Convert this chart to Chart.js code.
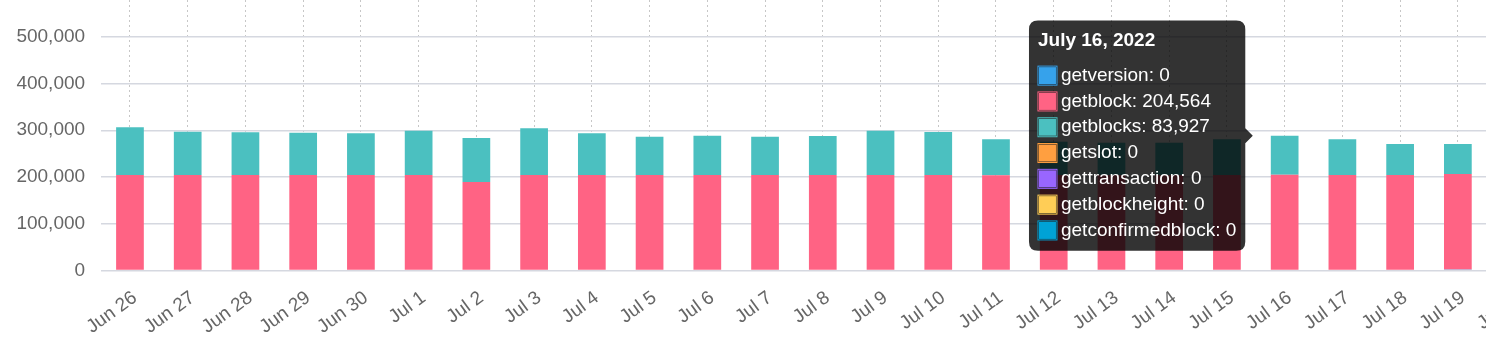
<!DOCTYPE html>
<html>
<head>
<meta charset="utf-8">
<title>RPC calls per day</title>
<script src="https://cdn.jsdelivr.net/npm/chart.js@4.4.1/dist/chart.umd.min.js"></script>
<style>
  html, body { margin: 0; padding: 0; overflow: hidden; background: #fff; }
  /* the chart is a bit larger than the window, its top and right edge are cut off */
  #wrap { position: absolute; left: 0; top: -30px; width: 1545px; height: 381px; }
</style>
</head>
<body>
<div id="wrap"><canvas id="calls"></canvas></div>
<script>
// days shown on the x axis (the last one is only partly visible)
const days = [
  '2022-06-26', '2022-06-27', '2022-06-28', '2022-06-29', '2022-06-30',
  '2022-07-01', '2022-07-02', '2022-07-03', '2022-07-04', '2022-07-05',
  '2022-07-06', '2022-07-07', '2022-07-08', '2022-07-09', '2022-07-10',
  '2022-07-11', '2022-07-12', '2022-07-13', '2022-07-14', '2022-07-15',
  '2022-07-16', '2022-07-17', '2022-07-18', '2022-07-19', '2022-07-20'
];

const getversion = [0, 0, 0, 0, 0, 0, 0, 0, 0, 0, 0, 0, 0, 0, 0, 1500, 0, 0, 0, 0, 0, 0, 0, 2000, null];
const getblock = [204500, 204500, 204500, 204500, 204500, 204500, 189300, 204500, 204500, 204500,
  204500, 204500, 204500, 204500, 204500, 202500, 204500, 204500, 204500, 204500,
  204564, 204500, 204500, 204500, null];
const getblocks = [101800, 92400, 91100, 90300, 88900, 94500, 94100, 99600, 88900, 81700,
  83800, 81700, 83200, 94500, 91800, 76600, 71000, 68900, 68900, 76100,
  83927, 76100, 66100, 64100, null];
const getslot = [0, 0, 0, 0, 0, 0, 0, 0, 0, 0, 0, 0, 0, 0, 0, 0, 0, 0, 0, 0, 0, 0, 0, 0, null];
const gettransaction = [0, 0, 0, 0, 0, 0, 0, 0, 0, 0, 0, 0, 0, 0, 0, 0, 0, 0, 0, 0, 0, 0, 0, 0, null];
const getblockheight = [0, 0, 0, 0, 0, 0, 0, 0, 0, 0, 0, 0, 0, 0, 0, 0, 0, 0, 0, 0, 0, 0, 0, 0, null];
const getconfirmedblock = [0, 0, 0, 0, 0, 0, 0, 0, 0, 0, 0, 0, 0, 0, 0, 0, 0, 0, 0, 0, 0, 0, 0, 0, null];

const seriesNames = ['getversion', 'getblock', 'getblocks', 'getslot', 'gettransaction', 'getblockheight', 'getconfirmedblock'];
const seriesValues = [getversion, getblock, getblocks, getslot, gettransaction, getblockheight, getconfirmedblock];
const seriesColors = ['#36a2eb', '#ff6384', '#4bc0c0', '#ff9f40', '#9966ff', '#ffcd56', '#00a2d6'];

// y axis ticks
const yTicks = [0, 100000, 200000, 300000, 400000, 500000, 600000];

// the day the tooltip is open on
const tooltipDay = '2022-07-16';

const monthShort = ['Jan', 'Feb', 'Mar', 'Apr', 'May', 'Jun', 'Jul', 'Aug', 'Sep', 'Oct', 'Nov', 'Dec'];
const monthLong = ['January', 'February', 'March', 'April', 'May', 'June', 'July', 'August', 'September', 'October', 'November', 'December'];

function shortDay(iso) {
  const p = iso.split('-');
  return monthShort[+p[1] - 1] + ' ' + (+p[2]);
}
function longDay(iso) {
  const p = iso.split('-');
  return monthLong[+p[1] - 1] + ' ' + (+p[2]) + ', ' + p[0];
}

// tooltip sits on the boundary before the hovered day, caret at the top of the stack
Chart.Tooltip.positioners.boundary = function(active) {
  if (!active.length) return false;
  const xScale = this.chart.scales.x;
  return {
    x: xScale.getPixelForValue(active[0].index - 0.5),
    y: active[active.length - 1].element.y
  };
};

const fontFamily = "'Liberation Sans', Arial, sans-serif";

const ctx = document.getElementById('calls').getContext('2d');
const chart = new Chart(ctx, {
  type: 'bar',
  data: {
    labels: days,
    datasets: seriesNames.map((name, i) => ({
      label: name,
      data: seriesValues[i],
      backgroundColor: seriesColors[i],
      borderColor: seriesColors[i],
      borderWidth: 0,
      barPercentage: 0.6,
      categoryPercentage: 0.8
    }))
  },
  options: {
    responsive: true,
    maintainAspectRatio: false,
    animation: false,
    locale: 'en-US',
    layout: { padding: 0 },
    interaction: { mode: 'index', intersect: false },
    scales: {
      x: {
        stacked: true,
        grid: {
          offset: false,
          drawTicks: false,
          color: 'rgba(0, 0, 0, 0.22)',
          lineWidth: 1
        },
        border: { display: false, dash: [2, 3] },
        ticks: {
          autoSkip: false,
          minRotation: 36,
          maxRotation: 36,
          padding: 16,
          labelOffset: 5,
          color: '#666',
          font: { family: fontFamily, size: 19 },
          callback: function(value, index) { return shortDay(days[index]); }
        },
        afterFit: function(scale) { scale.height = 80.5; }
      },
      y: {
        stacked: true,
        min: yTicks[0],
        max: yTicks[yTicks.length - 1],
        ticks: {
          stepSize: yTicks[1] - yTicks[0],
          padding: 16,
          color: '#666',
          font: { family: fontFamily, size: 19 }
        },
        grid: {
          drawTicks: false,
          color: '#d5d8e0',
          lineWidth: 1.5
        },
        border: { display: false },
        afterFit: function(scale) {
          scale.width = 101.1;
          scale.paddingTop = 20;
        }
      }
    },
    plugins: {
      legend: { display: false },
      title: { display: false },
      tooltip: {
        mode: 'index',
        intersect: false,
        position: 'boundary',
        backgroundColor: 'rgba(0, 0, 0, 0.8)',
        titleFont: { family: fontFamily, size: 19, weight: 'bold' },
        bodyFont: { family: fontFamily, size: 19 },
        padding: 9,
        cornerRadius: 9,
        caretSize: 7.5,
        caretPadding: 3,
        bodySpacing: 3,
        boxPadding: 2,
        titleMarginBottom: 12,
        multiKeyBackground: '#1e1e1e',
        callbacks: {
          title: items => longDay(days[items[0].dataIndex]),
          labelColor: item => ({
            borderColor: seriesColors[item.datasetIndex],
            backgroundColor: seriesColors[item.datasetIndex],
            borderWidth: 1
          })
        }
      }
    }
  }
});

// open the tooltip on the chosen day
const tipIndex = days.indexOf(tooltipDay);
chart.tooltip.setActiveElements(
  seriesNames.map((n, i) => ({ datasetIndex: i, index: tipIndex })),
  { x: 0, y: 0 }
);
chart.draw();
</script>
</body>
</html>
